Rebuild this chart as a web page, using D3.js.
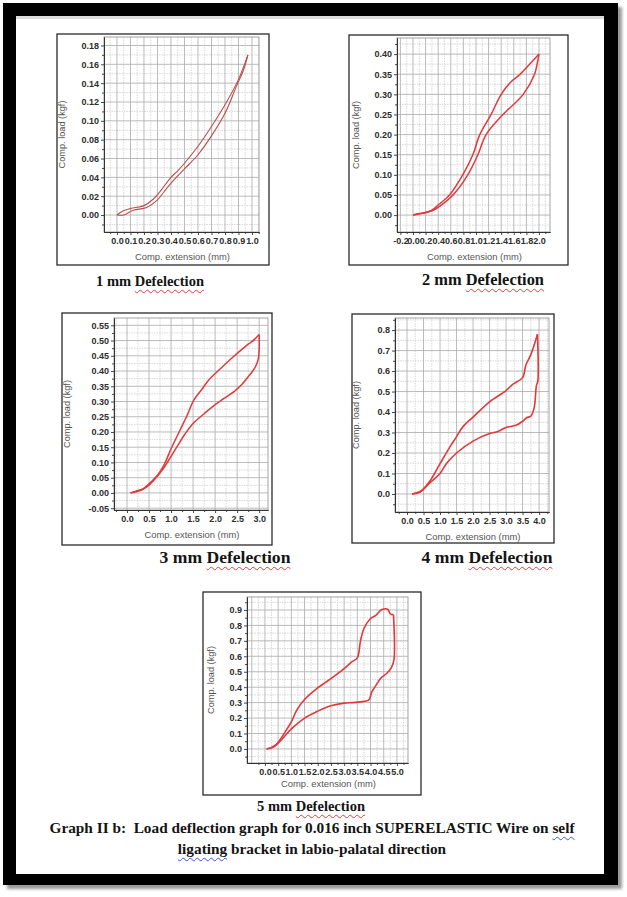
<!DOCTYPE html>
<html><head><meta charset="utf-8">
<script src="https://cdn.jsdelivr.net/npm/d3@7"></script>
<style>
html,body{margin:0;padding:0;background:#fff;}
body{width:627px;height:897px;overflow:hidden;position:relative;}
svg{position:absolute;left:0;top:0;}
.cap{position:absolute;white-space:pre;font-family:"Liberation Serif","Times New Roman",serif;font-weight:bold;color:#141414;line-height:1;transform:translateX(-50%);}
.sp{text-decoration:underline wavy #e23b3b;text-decoration-thickness:1px;text-underline-offset:3px;}
.gr{text-decoration:underline wavy #3a56d8;text-decoration-thickness:1px;text-underline-offset:3px;}
</style></head><body>
<svg id="fig" width="627" height="897"></svg>
<script>
// ---------------- DATA ----------------
const yAxisTitle = "Comp. load (kgf)";
const xAxisTitle = "Comp. extension (mm)";
const panelCaptions = ["1 mm Defelection","2 mm Defelection","3 mm Defelection","4 mm Defelection","5 mm Defelection"];
const figureCaption = ["Graph II b:  Load deflection graph for 0.016 inch SUPERELASTIC Wire on self","ligating bracket in labio-palatal direction"];
const spellFlagged = ["Defelection","labio"];
const grammarFlagged = ["self","ligating"];

const p1XTicks = [0,0.1,0.2,0.3,0.4,0.5,0.6,0.7,0.8,0.9,1.0];
const p1YTicks = [0,0.02,0.04,0.06,0.08,0.10,0.12,0.14,0.16,0.18];
const p2XTicks = [-0.2,0,0.2,0.4,0.6,0.8,1.0,1.2,1.4,1.6,1.8,2.0];
const p2YTicks = [0,0.05,0.10,0.15,0.20,0.25,0.30,0.35,0.40];
const p3XTicks = [0,0.5,1.0,1.5,2.0,2.5,3.0];
const p3YTicks = [-0.05,0,0.05,0.10,0.15,0.20,0.25,0.30,0.35,0.40,0.45,0.50,0.55];
const p4XTicks = [0,0.5,1.0,1.5,2.0,2.5,3.0,3.5,4.0];
const p4YTicks = [0,0.1,0.2,0.3,0.4,0.5,0.6,0.7,0.8];
const p5XTicks = [0,0.5,1.0,1.5,2.0,2.5,3.0,3.5,4.0,4.5,5.0];
const p5YTicks = [0,0.1,0.2,0.3,0.4,0.5,0.6,0.7,0.8,0.9];

// [extension mm, load kgf]
const p1Loading = [[0,0],[0.04,0.004],[0.1,0.007],[0.2,0.01],[0.27,0.017],[0.33,0.027],[0.4,0.04],[0.45,0.047],[0.5,0.055],[0.6,0.073],[0.7,0.094],[0.8,0.117],[0.9,0.144],[0.97,0.17]];
const p1Unloading = [[0.97,0.17],[0.94,0.155],[0.88,0.135],[0.8,0.108],[0.7,0.084],[0.6,0.064],[0.5,0.049],[0.42,0.037],[0.35,0.025],[0.3,0.016],[0.22,0.008],[0.12,0.005],[0.05,0],[0,0]];
const p2Loading = [[0,0],[0.18,0.006],[0.3,0.012],[0.4,0.025],[0.5,0.038],[0.58,0.05],[0.79,0.1],[0.95,0.15],[1.06,0.2],[1.24,0.25],[1.4,0.3],[1.55,0.33],[1.7,0.35],[1.88,0.38],[2.0,0.40]];
const p2Unloading = [[2.0,0.40],[1.97,0.375],[1.93,0.35],[1.75,0.30],[1.43,0.25],[1.16,0.20],[1.03,0.15],[0.87,0.10],[0.635,0.05],[0.45,0.025],[0.32,0.012],[0.2,0.006],[0.1,0.004],[0,0]];
const p3Loading = [[0.08,0],[0.2,0.006],[0.35,0.012],[0.5,0.03],[0.7,0.06],[0.85,0.095],[1.0,0.145],[1.2,0.205],[1.35,0.25],[1.52,0.305],[1.7,0.34],[1.85,0.37],[2.1,0.405],[2.4,0.445],[2.6,0.47],[2.75,0.488],[2.85,0.498],[3.0,0.52]];
const p3Unloading = [[3.0,0.52],[2.98,0.44],[2.9,0.41],[2.8,0.39],[2.6,0.355],[2.45,0.335],[2.2,0.31],[2.0,0.29],[1.75,0.26],[1.5,0.228],[1.3,0.19],[1.15,0.155],[1.0,0.12],[0.8,0.075],[0.6,0.04],[0.45,0.02],[0.3,0.008],[0.08,0]];
const p4Loading = [[0.15,0],[0.4,0.012],[0.7,0.065],[1.0,0.148],[1.3,0.23],[1.5,0.28],[1.7,0.33],[2.0,0.375],[2.5,0.45],[3.0,0.505],[3.2,0.535],[3.5,0.568],[3.6,0.63],[3.75,0.68],[3.95,0.78]];
const p4Unloading = [[3.95,0.78],[3.96,0.55],[3.92,0.53],[3.85,0.42],[3.75,0.38],[3.62,0.372],[3.5,0.355],[3.3,0.335],[3.0,0.325],[2.75,0.305],[2.5,0.295],[2.0,0.258],[1.5,0.2],[1.2,0.15],[1.0,0.1],[0.7,0.055],[0.4,0.01],[0.15,0]];
const p5Loading = [[0.06,0],[0.4,0.025],[0.8,0.12],[1.0,0.175],[1.2,0.25],[1.5,0.32],[2.0,0.395],[2.5,0.455],[3.0,0.52],[3.3,0.565],[3.5,0.59],[3.62,0.7],[3.75,0.78],[4.0,0.845],[4.2,0.865],[4.4,0.9],[4.65,0.905],[4.75,0.875],[4.87,0.87]];
const p5Unloading = [[4.87,0.87],[4.89,0.58],[4.8,0.53],[4.62,0.49],[4.4,0.46],[4.2,0.41],[4.05,0.37],[3.95,0.32],[3.85,0.31],[3.6,0.305],[3.3,0.3],[3.0,0.297],[2.5,0.28],[2.0,0.245],[1.5,0.2],[1.0,0.13],[0.6,0.055],[0.3,0.01],[0.06,0]];

// ---------------- LAYOUT ----------------
const panels = [
  {xTicks:p1XTicks,yTicks:p1YTicks,xDec:1,yDec:2,xMinor:0.05,yMinor:0.01,series:[p1Loading,p1Unloading]},
  {xTicks:p2XTicks,yTicks:p2YTicks,xDec:1,yDec:2,xMinor:0.1,yMinor:0.025,series:[p2Loading,p2Unloading]},
  {xTicks:p3XTicks,yTicks:p3YTicks,xDec:1,yDec:2,xMinor:0.25,yMinor:0.025,series:[p3Loading,p3Unloading]},
  {xTicks:p4XTicks,yTicks:p4YTicks,xDec:1,yDec:1,xMinor:0.25,yMinor:0.05,series:[p4Loading,p4Unloading]},
  {xTicks:p5XTicks,yTicks:p5YTicks,xDec:1,yDec:1,xMinor:0.25,yMinor:0.05,series:[p5Loading,p5Unloading]}
];
const layout = [
  {box:[57,34,269,265],plot:[104,37,259,232],xd:[-0.096,1.052],yd:[-0.018,0.189],ytDx:39,xtDy:28,cap:[150,286],capFs:14.5,color:"#b5504e",sw:1.1},
  {box:[349,35,568,265],plot:[397,38,550,232],xd:[-0.254,2.175],yd:[-0.042,0.44],ytDx:38,xtDy:28,cap:[483,286],capFs:16.4,color:"#e0393b",sw:1.5},
  {box:[62,313,272,545],plot:[114,318,268,510],xd:[-0.295,3.2],yd:[-0.056,0.574],ytDx:44,xtDy:28,cap:[225,564],capFs:17.6,color:"#e0393b",sw:1.5},
  {box:[352,314,554,543],plot:[395,318,549,512],xd:[-0.364,4.3],yd:[-0.088,0.859],ytDx:36,xtDy:28,cap:[487,564],capFs:17.6,color:"#e0393b",sw:1.6},
  {box:[203,592,421,795],plot:[247,597,408,763],xd:[-0.68,5.42],yd:[-0.091,0.984],ytDx:33,xtDy:24,cap:[311,811],capFs:14.5,color:"#e0393b",sw:1.6}
];

const svg = d3.select("#fig");
// outer frame with shadow
const defs = svg.append("defs");
const f = defs.append("filter").attr("id","sh").attr("x","-5%").attr("y","-5%").attr("width","110%").attr("height","110%");
f.append("feGaussianBlur").attr("stdDeviation",1.6);
svg.append("rect").attr("x",7).attr("y",7).attr("width",615).attr("height",882).attr("fill","#9a9a9a").attr("filter","url(#sh)");
svg.append("rect").attr("x",3).attr("y",3).attr("width",615).attr("height",882).attr("fill","#000");
svg.append("rect").attr("x",16).attr("y",16).attr("width",588).attr("height",858).attr("fill","#fff");
svg.append("rect").attr("x",16).attr("y",16).attr("width",588).attr("height",3).attr("fill","#dedede");

function intRange(d, step){
  const a = Math.ceil(d[0]/step - 1e-9), b = Math.floor(d[1]/step + 1e-9);
  return d3.range(a, b+1).map(i => ({v:i*step, major: i%2===0}));
}

panels.forEach((P, i) => {
  const L = layout[i];
  const [bx0,by0,bx1,by1] = L.box, [px0,py0,px1,py1] = L.plot;
  const g = svg.append("g");
  g.append("rect").attr("x",bx0).attr("y",by0).attr("width",bx1-bx0).attr("height",by1-by0)
    .attr("fill","#fff").attr("stroke","#2a2a2a").attr("stroke-width",1.3);
  const x = d3.scaleLinear().domain(L.xd).range([px0,px1]);
  const y = d3.scaleLinear().domain(L.yd).range([py1,py0]);

  const xg = intRange(L.xd, P.xMinor), yg = intRange(L.yd, P.yMinor);
  // minor grid
  g.append("g").selectAll("line").data(xg.filter(d=>!d.major)).join("line")
    .attr("x1",d=>x(d.v)).attr("x2",d=>x(d.v)).attr("y1",py0).attr("y2",py1)
    .attr("stroke","#cfcfcf").attr("stroke-width",0.8).attr("stroke-dasharray","1.5,1");
  g.append("g").selectAll("line").data(yg.filter(d=>!d.major)).join("line")
    .attr("y1",d=>y(d.v)).attr("y2",d=>y(d.v)).attr("x1",px0).attr("x2",px1)
    .attr("stroke","#cfcfcf").attr("stroke-width",0.8).attr("stroke-dasharray","1.5,1");
  // major grid
  g.append("g").selectAll("line").data(xg.filter(d=>d.major)).join("line")
    .attr("x1",d=>x(d.v)).attr("x2",d=>x(d.v)).attr("y1",py0).attr("y2",py1)
    .attr("stroke","#a9a9a9").attr("stroke-width",0.8);
  g.append("g").selectAll("line").data(yg.filter(d=>d.major)).join("line")
    .attr("y1",d=>y(d.v)).attr("y2",d=>y(d.v)).attr("x1",px0).attr("x2",px1)
    .attr("stroke","#a9a9a9").attr("stroke-width",0.8);
  g.append("rect").attr("x",px0).attr("y",py0).attr("width",px1-px0).attr("height",py1-py0)
    .attr("fill","none").attr("stroke","#999").attr("stroke-width",0.9);

  // axes
  const styleAxis = sel => {
    sel.attr("font-family","'Liberation Sans',Arial,sans-serif").attr("font-size",9).attr("font-weight","bold");
    sel.selectAll("path.domain").attr("stroke","#333").attr("stroke-width",1);
    sel.selectAll(".tick line").attr("stroke","#333").attr("stroke-width",0.9);
    sel.selectAll(".tick text").attr("fill","#2e2e2e");
  };
  const xMinorVals = xg.filter(d=>!d.major).map(d=>d.v);
  const yMinorVals = yg.filter(d=>!d.major).map(d=>d.v);
  g.append("g").attr("transform",`translate(0,${py1})`)
    .call(d3.axisBottom(x).tickValues(xMinorVals).tickFormat("").tickSizeInner(2).tickSizeOuter(0)).call(styleAxis);
  g.append("g").attr("transform",`translate(${px0},0)`)
    .call(d3.axisLeft(y).tickValues(yMinorVals).tickFormat("").tickSizeInner(2).tickSizeOuter(0)).call(styleAxis);
  g.append("g").attr("transform",`translate(0,${py1})`)
    .call(d3.axisBottom(x).tickValues(P.xTicks).tickFormat(d=>d.toFixed(P.xDec)).tickSizeInner(3).tickSizeOuter(0).tickPadding(3)).call(styleAxis);
  g.append("g").attr("transform",`translate(${px0},0)`)
    .call(d3.axisLeft(y).tickValues(P.yTicks).tickFormat(d=>d.toFixed(P.yDec)).tickSizeInner(3).tickSizeOuter(0).tickPadding(2)).call(styleAxis);

  // axis titles
  g.append("text").attr("x",(px0+px1)/2+1).attr("y",py1+L.xtDy).attr("text-anchor","middle")
    .attr("font-family","'Liberation Sans',Arial,sans-serif").attr("font-size",9.4).attr("fill","#555").text(xAxisTitle);
  g.append("text").attr("transform",`translate(${px0-L.ytDx},${(py0+py1)/2}) rotate(-90)`).attr("text-anchor","middle")
    .attr("font-family","'Liberation Sans',Arial,sans-serif").attr("font-size",9.2).attr("fill","#555").text(yAxisTitle);

  // curves
  const line = d3.line().x(d=>x(d[0])).y(d=>y(d[1])).curve(d3.curveCatmullRom.alpha(0.5));
  g.append("g").selectAll("path").data(P.series).join("path")
    .attr("d",line).attr("fill","none").attr("stroke",L.color).attr("stroke-width",L.sw).attr("stroke-linejoin","round");
});

// captions
function markup(t){
  return t.split(/(\s+)/).map(w => spellFlagged.includes(w) ? `<span class="sp">${w}</span>` :
    grammarFlagged.includes(w) ? `<span class="gr">${w}</span>` : w).join("");
}
const capData = panelCaptions.map((t,i)=>({t, cx:layout[i].cap[0], base:layout[i].cap[1], fs:layout[i].capFs}))
  .concat(figureCaption.map((t,i)=>({t, cx:312, base:833+i*21, fs:15.3})));
d3.select("body").selectAll("div.cap").data(capData).join("div").attr("class","cap")
  .style("left",d=>d.cx+"px").style("top",d=>(d.base-0.8375*d.fs)+"px").style("font-size",d=>d.fs+"px")
  .html(d=>markup(d.t));
</script>
</body></html>
